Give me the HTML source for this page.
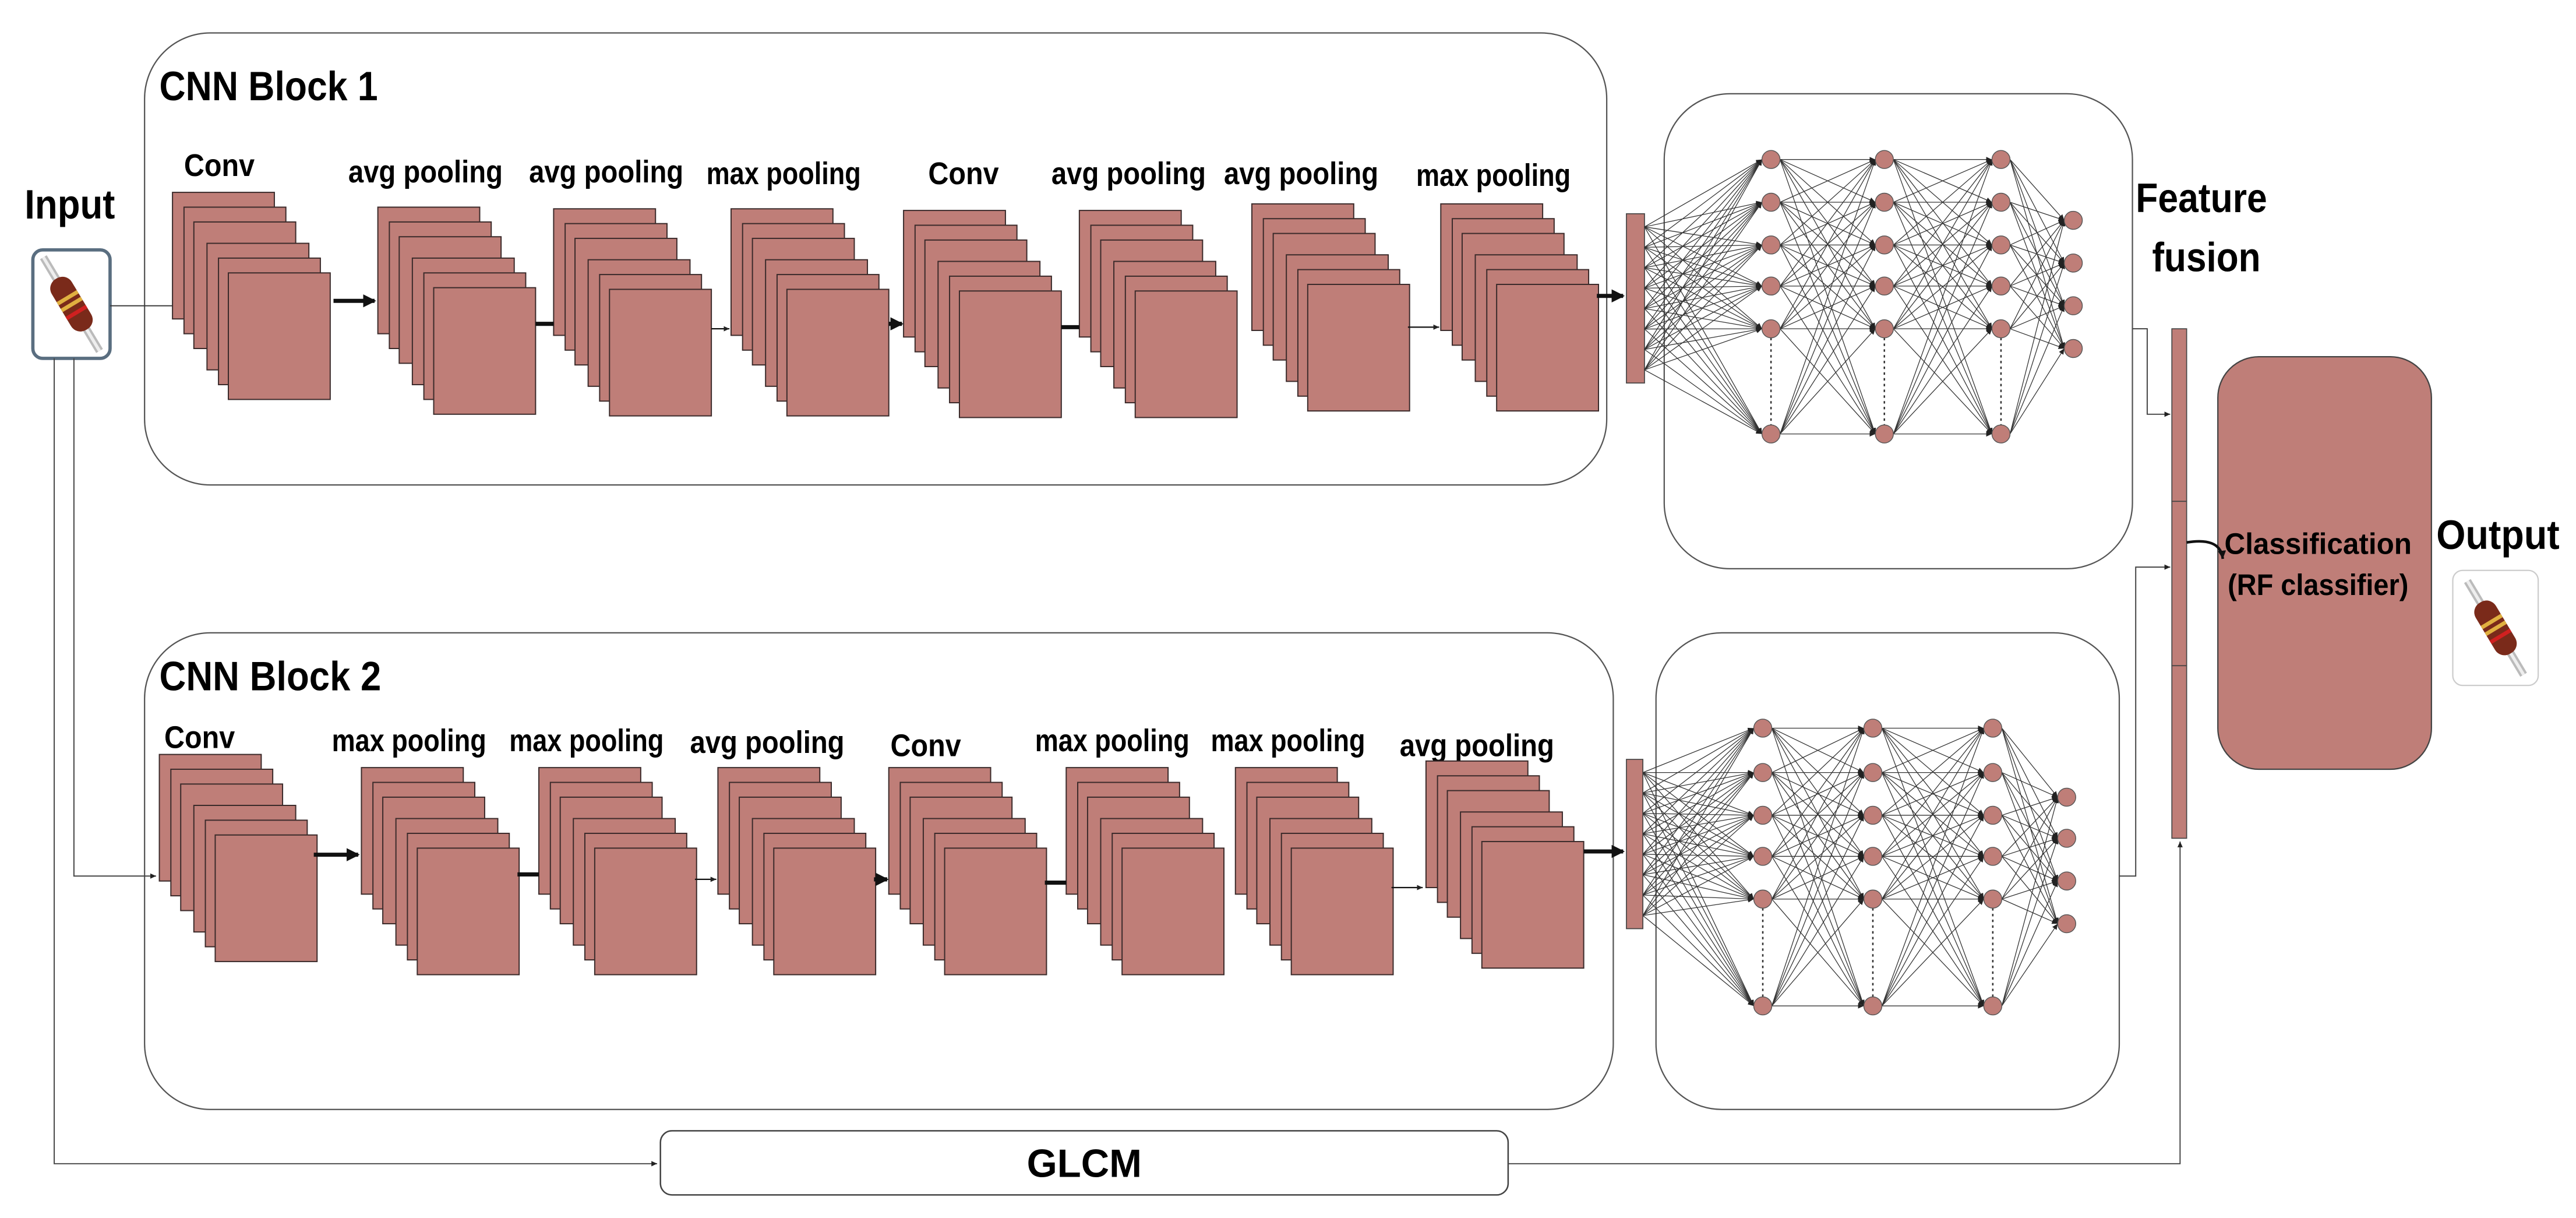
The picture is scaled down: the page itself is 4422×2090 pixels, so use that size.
<!DOCTYPE html>
<html><head><meta charset="utf-8">
<style>
html,body{margin:0;padding:0;background:#fff;}
svg{display:block;}
text{font-family:"Liberation Sans",Arial,sans-serif;font-weight:bold;fill:#000;}
</style></head>
<body>
<svg id="s" xmlns="http://www.w3.org/2000/svg" width="4422" height="2090" viewBox="0 0 1568 741">
<defs>
<marker id="ah" markerWidth="6" markerHeight="6" refX="5" refY="3" orient="auto" markerUnits="userSpaceOnUse"><path d="M0,0.5 L5,3 L0,5.5 z" fill="#111"/></marker>
<marker id="ahb" markerWidth="10" markerHeight="10" refX="7" refY="5" orient="auto" markerUnits="userSpaceOnUse"><path d="M0,1 L8,5 L0,9 z" fill="#111"/></marker>
<marker id="as" markerWidth="4" markerHeight="4" refX="3.5" refY="2" orient="auto" markerUnits="userSpaceOnUse"><path d="M0,0.4 L3.5,2 L0,3.6 z" fill="#222"/></marker>
<g id="res">
<line x1="-18" y1="-30" x2="18" y2="30" stroke="#bbb" stroke-width="5"/>
<line x1="-18" y1="-30" x2="18" y2="30" stroke="#eee" stroke-width="2"/>
<g transform="rotate(59)">
<rect x="-19" y="-7.5" width="38" height="15" rx="7" fill="#7a2a1a"/>
<rect x="-6" y="-7.5" width="2.5" height="15" fill="#e0b040"/>
<rect x="-1" y="-7.5" width="2.5" height="15" fill="#e0b040"/>
<rect x="5" y="-7.5" width="2.5" height="15" fill="#d02020"/>
</g>
</g>
</defs>

<rect x="88" y="20" width="890" height="275" rx="40" fill="none" stroke="#555" stroke-width="0.8"/>
<rect x="88" y="385" width="894" height="290" rx="40" fill="none" stroke="#555" stroke-width="0.8"/>
<rect x="1013" y="57" width="285" height="289" rx="40" fill="none" stroke="#555" stroke-width="0.8"/>
<rect x="1008" y="385" width="282" height="290" rx="40" fill="none" stroke="#555" stroke-width="0.8"/>

<text x="97" y="61" font-size="25" textLength="133" lengthAdjust="spacingAndGlyphs">CNN Block 1</text>
<text x="97" y="420" font-size="25" textLength="135" lengthAdjust="spacingAndGlyphs">CNN Block 2</text>
<text x="15" y="133" font-size="25" textLength="55" lengthAdjust="spacingAndGlyphs">Input</text>
<text x="1300" y="129" font-size="25" textLength="80" lengthAdjust="spacingAndGlyphs">Feature</text>
<text x="1310" y="165" font-size="25" textLength="66" lengthAdjust="spacingAndGlyphs">fusion</text>
<text x="1483" y="334" font-size="25" textLength="75" lengthAdjust="spacingAndGlyphs">Output</text>

<rect x="20" y="152" width="47" height="66" rx="6" fill="#fff" stroke="#5a6e80" stroke-width="2"/>
<use href="#res" transform="translate(43.5,185) scale(0.95)"/>
<rect x="1493" y="347" width="52" height="70" rx="6" fill="#fff" stroke="#ccc" stroke-width="0.8"/>
<use href="#res" transform="translate(1519,382) scale(0.95)"/>

<line x1="67" y1="186" x2="105" y2="186" stroke="#333" stroke-width="0.7"/>
<path d="M33,218 V708 H400" fill="none" stroke="#444" stroke-width="0.7" marker-end="url(#as)"/>
<path d="M45,218 V533 H95" fill="none" stroke="#444" stroke-width="0.7" marker-end="url(#as)"/>

<rect x="402" y="688" width="516" height="39" rx="7" fill="#fff" stroke="#444" stroke-width="0.9"/>
<text x="660" y="716" font-size="24" text-anchor="middle" textLength="70" lengthAdjust="spacingAndGlyphs">GLCM</text>
<path d="M918,708 H1327 V512" fill="none" stroke="#444" stroke-width="0.7" marker-end="url(#as)"/>

<path d="M1298,200 H1307 V252 H1321" fill="none" stroke="#444" stroke-width="0.7" marker-end="url(#as)"/>
<path d="M1290,533 H1300 V345 H1321" fill="none" stroke="#444" stroke-width="0.7" marker-end="url(#as)"/>

<rect x="1322" y="200" width="9" height="105" fill="#bf7e78" stroke="#444" stroke-width="0.6"/>
<rect x="1322" y="305" width="9" height="100" fill="#bf7e78" stroke="#444" stroke-width="0.6"/>
<rect x="1322" y="405" width="9" height="105" fill="#bf7e78" stroke="#444" stroke-width="0.6"/>

<rect x="1350" y="217" width="130" height="251" rx="25" fill="#bf7e78" stroke="#444" stroke-width="0.8"/>
<text x="1411" y="337" font-size="18" text-anchor="middle" textLength="114" lengthAdjust="spacingAndGlyphs">Classification</text>
<text x="1411" y="362" font-size="18" text-anchor="middle" textLength="110" lengthAdjust="spacingAndGlyphs">(RF classifier)</text>
<path d="M1331,330 C1343,328 1352,330 1353,340" fill="none" stroke="#111" stroke-width="1.6" marker-end="url(#ah)"/>

<rect x="990" y="130" width="11" height="103" fill="#bf7e78" stroke="#444" stroke-width="0.6"/>
<rect x="990" y="462" width="10" height="103" fill="#bf7e78" stroke="#444" stroke-width="0.6"/>

<g id="gen"></g>
</svg>
<script>
(function(){
var NS="http://www.w3.org/2000/svg",g=document.getElementById("gen");
function el(t,a,txt){var e=document.createElementNS(NS,t);for(var k in a)e.setAttribute(k,a[k]);if(txt)e.textContent=txt;g.appendChild(e);return e;}
var DX=[0,7,13,21,28,34],DY=[0,9,18,31,40,49];
function stack(x,y){for(var i=0;i<6;i++){el("rect",{x:x+DX[i],y:y+DY[i],width:62,height:77,fill:"#bf7e78",stroke:"#3a2a2a","stroke-width":0.7});}}
function lab(x,y,t){el("text",{x:x,y:y,"font-size":19,textLength:(t=="Conv"?43:94),lengthAdjust:"spacingAndGlyphs"},t);}
var b1=[["Conv",112,107,105,117],["avg pooling",212,111,230,126],["avg pooling",322,111,337,127],["max pooling",430,112,445,127],["Conv",565,112,550,128],["avg pooling",640,112,657,128],["avg pooling",745,112,762,124],["max pooling",862,113,877,124]];
var b2=[["Conv",100,455,97,459],["max pooling",202,457,220,467],["max pooling",310,457,328,467],["avg pooling",420,458,437,467],["Conv",542,460,541,467],["max pooling",630,457,649,467],["max pooling",737,457,752,467],["avg pooling",852,460,868,463]];
b1.concat(b2).forEach(function(s){lab(s[1],s[2],s[0]);stack(s[3],s[4]);});
function arr(x1,y,x2,w,m){var a={x1:x1,y1:y,x2:x2,y2:y,stroke:"#111","stroke-width":w};if(m)a["marker-end"]="url(#"+m+")";el("line",a);}
arr(203,183,228,2.5,"ahb");arr(326,197,337,2.5);arr(433,200,444,0.8,"as");arr(541,197,549,2.5,"ahb");arr(646,199,657,2.5);arr(857,199,876,0.8,"as");arr(972,180,988,2.5,"ahb");
arr(191,520,218,2.5,"ahb");arr(315,532,328,2.5);arr(423,535,436,0.8,"as");arr(532,535,540,2.5,"ahb");arr(636,537,649,2.5);arr(847,540,866,0.8,"as");arr(964,518,988,2.5,"ahb");
function net(bx,by0,by1,cx,rows,c4){
 var cols=[cx[0],cx[1],cx[2]],R=5.5;
 var bar=[];for(var i=0;i<8;i++)bar.push(by0+8+i*(by1-by0-16)/7);
 bar.forEach(function(y){rows.forEach(function(y2){el("line",{x1:bx,y1:y,x2:cols[0]-R,y2:y2,stroke:"#333","stroke-width":0.45,"marker-end":"url(#as)"});});});
 for(var c=0;c<2;c++)rows.forEach(function(y){rows.forEach(function(y2){el("line",{x1:cols[c]+R,y1:y,x2:cols[c+1]-R,y2:y2,stroke:"#333","stroke-width":0.45,"marker-end":"url(#as)"});});});
 rows.forEach(function(y){c4.forEach(function(y2){el("line",{x1:cols[2]+R,y1:y,x2:cx[3]-R,y2:y2,stroke:"#333","stroke-width":0.45,"marker-end":"url(#as)"});});});
 cols.forEach(function(x){el("line",{x1:x,y1:rows[4]+R,x2:x,y2:rows[5]-R,stroke:"#333","stroke-width":0.9,"stroke-dasharray":"1.5,2"});rows.forEach(function(y){el("circle",{cx:x,cy:y,r:R,fill:"#bf7e78",stroke:"#555","stroke-width":0.5});});});
 c4.forEach(function(y){el("circle",{cx:cx[3],cy:y,r:R,fill:"#bf7e78",stroke:"#555","stroke-width":0.5});});
}
net(1001,130,233,[1078,1147,1218,1262],[97,123,149,174,200,264],[134,160,186,212]);
net(1000,462,565,[1073,1140,1213,1258],[443,470,496,521,547,612],[485,510,536,562]);
})();
</script>
</body></html>
